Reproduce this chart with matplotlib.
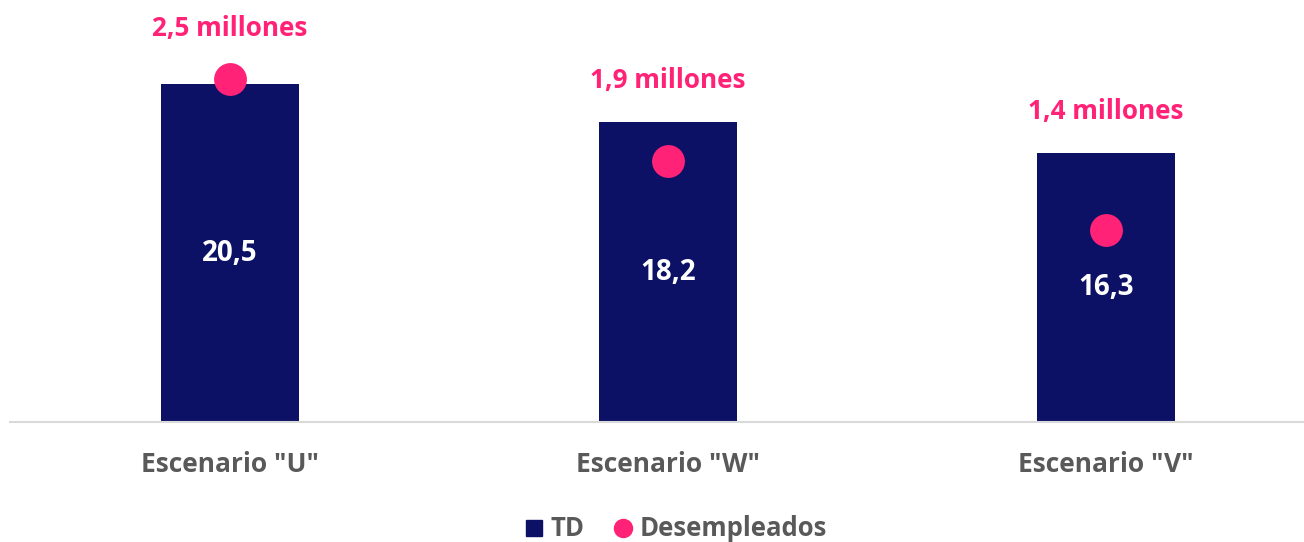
import matplotlib
matplotlib.use('Agg')
import matplotlib.pyplot as plt
from matplotlib.lines import Line2D

plt.rcParams['font.family'] = ['Open Sans', 'DejaVu Sans']

categories = ['Escenario "U"', 'Escenario "W"', 'Escenario "V"']
td = [20.5, 18.2, 16.3]
desempleados = [2.5, 1.9, 1.4]
td_labels = ['20,5', '18,2', '16,3']
desemp_labels = ['2,5 millones', '1,9 millones', '1,4 millones']

navy = '#0C1166'
pink = '#FF2277'
gray = '#595959'

fig = plt.figure(figsize=(13.04, 5.42), dpi=100)
ax = fig.add_axes([10/1304, 120/542, 1294/1304, 412/542])
ax2 = ax.twinx()

x = list(range(len(categories)))
ax.bar(x, td, width=0.315, color=navy, zorder=2)
for i, v in enumerate(td):
    ax.text(i, v / 2, td_labels[i], color='white', fontsize=20, fontweight='bold',
            ha='center', va='center')

ax2.scatter(x, desempleados, s=560, color=pink, zorder=3, linewidths=0)

# label offsets above the bar tops (px)
label_offsets = [56, 42, 42]
for i, v in enumerate(td):
    ax.annotate(desemp_labels[i], (i, v), xytext=(0, label_offsets[i] * 0.72),
                textcoords='offset points', ha='center', va='center',
                color=pink, fontsize=18.8, fontweight='bold')

ax.set_xlim(-0.502, 2.452)
ax.set_ylim(0, 25)
ax2.set_ylim(0, 3)

for a in (ax, ax2):
    for s in ['top', 'right', 'left']:
        a.spines[s].set_visible(False)
    a.set_yticks([])
ax2.spines['bottom'].set_visible(False)
ax.spines['bottom'].set_color('#D9D9D9')
ax.spines['bottom'].set_linewidth(1.5)

ax.set_xticks(x)
ax.set_xticklabels(categories, fontsize=19, fontweight='bold', color=gray)
ax.tick_params(axis='x', length=0, pad=21)

handles = [Line2D([], [], marker='s', color=navy, linestyle='none', markersize=12),
           Line2D([], [], marker='o', color=pink, linestyle='none', markersize=13)]
fig.legend(handles, ['TD', 'Desempleados'], loc='center', bbox_to_anchor=(674/1304, 1 - 529/542),
           ncol=2, frameon=False, handlelength=1.0, handletextpad=0.15, columnspacing=1.0,
           prop={'size': 18.5, 'weight': 'bold'}, labelcolor=gray)

fig.savefig('out.png', dpi=100)
